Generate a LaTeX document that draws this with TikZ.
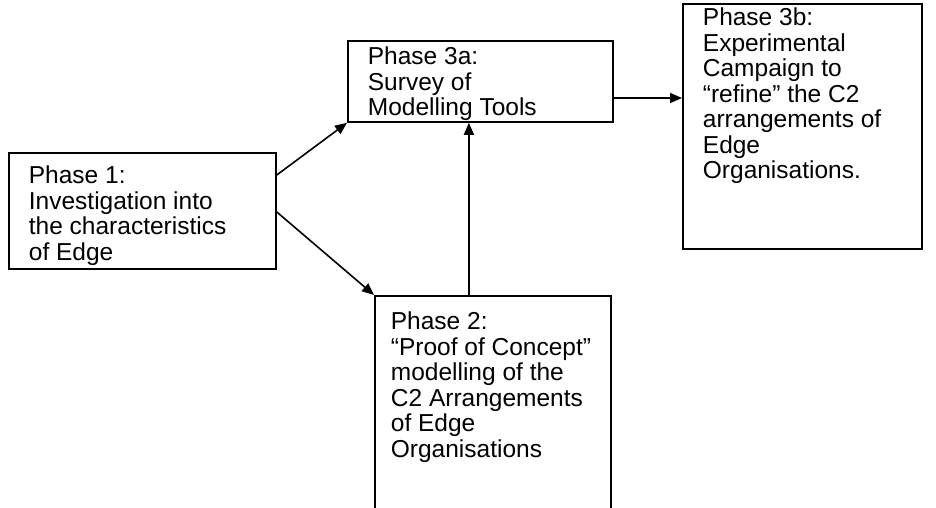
\documentclass[tikz,border=0pt]{standalone}
\usepackage{fontspec}
\setmainfont{Liberation Sans}
\usetikzlibrary{arrows.meta,positioning}

% Text of a phase, set at the top of a box of fixed size.
\newcommand{\phasetext}[4]{\parbox[t][#2][t]{#1}{\raggedright\vspace*{#3}#4}}

\begin{document}
\begin{tikzpicture}[x=1pt, y=-1pt, line width=1.8pt, >={Triangle[length=12pt,width=10pt]}]
	\tikzset{
		phasebox/.style={draw, rectangle, anchor=north west,
			inner xsep=20pt, inner ysep=0pt,
			font=\fontsize{24.5}{25.5}\selectfont},
		flow/.style={->, line width=1.6pt}
	}
	\clip (0,0) rectangle (936,508);

	% The four phases of the work.
	\node[phasebox] (ph1) at (8,152)
		{\phasetext{227pt}{116pt}{13pt}{Phase 1:\\Investigation into\\the characteristics\\of Edge}};
	\node[phasebox] (ph3a) at (347,40)
		{\phasetext{225pt}{81pt}{6pt}{Phase 3a:\\Survey of\\Modelling Tools}};
	\node[phasebox] (ph3b) at (682,3)
		{\phasetext{199pt}{245pt}{4pt}{Phase 3b:\\Experimental\\Campaign to\\``refine'' the C2\\arrangements of\\Edge\\Organisations.}};
	\node[phasebox, inner xsep=16pt] (ph2) at (374,295)
		{\phasetext{204pt}{240pt}{16pt}{Phase 2:\\``Proof of Concept''\\modelling of the\\C2 Arrangements\\of Edge\\Organisations}};

	% Connectors between the phases.
	\coordinate (ph1up) at ([yshift=-23pt]ph1.north east);
	\coordinate (ph1dn) at ([yshift=-60pt]ph1.north east);
	\coordinate (ph3aout) at ([yshift=-58pt]ph3a.north east);
	\coordinate (ph2up) at ([xshift=-24pt]ph2.north);
	\draw[flow] (ph1up) -- (ph3a.south west);
	\draw[flow] (ph1dn) -- (ph2.north west);
	\draw[flow] (ph2up) -- (ph2up |- ph3a.south);
	\draw[flow] (ph3aout) -- (ph3aout -| ph3b.west);
\end{tikzpicture}
\end{document}
